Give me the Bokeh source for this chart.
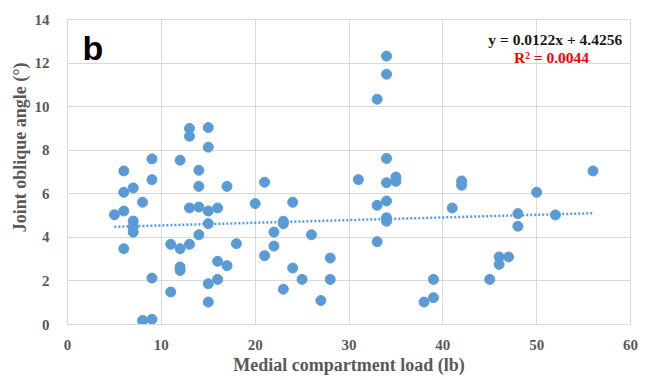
from bokeh.plotting import figure
from bokeh.models import Range1d, FixedTicker, Label, Title
from bokeh.embed import file_html
from bokeh.resources import INLINE

# Data
load_lb = [5, 6, 6, 6, 6, 7, 7, 7, 7, 8, 8, 9, 9, 9, 9, 11, 11, 12, 12, 12, 12,
           13, 13, 13, 13, 14, 14, 14, 14, 15, 15, 15, 15, 15, 15, 16, 16, 16,
           17, 17, 18, 20, 21, 21, 22, 22, 23, 23, 23, 24, 24, 25, 26, 27, 28, 28,
           31, 33, 33, 33, 34, 34, 34, 34, 34, 34, 34, 35, 35, 38, 39, 39, 41,
           42, 42, 45, 46, 46, 47, 48, 48, 50, 52, 56]
angle_deg = [5.04, 7.05, 6.07, 5.21, 3.48, 6.27, 4.75, 4.47, 4.24, 5.61, 0.18,
             7.60, 6.65, 2.13, 0.24, 3.68, 1.49, 7.54, 3.48, 2.64, 2.48,
             9.00, 8.64, 5.35, 3.68, 7.08, 6.34, 5.39, 4.12, 9.04, 8.14, 5.21,
             4.63, 1.87, 1.03, 5.35, 2.90, 2.07, 6.34, 2.70, 3.71, 5.55, 6.53,
             3.16, 4.24, 3.60, 4.74, 4.63, 1.62, 5.61, 2.59, 2.07, 4.12, 1.10,
             3.05, 2.07, 6.65, 10.34, 5.47, 3.80, 12.32, 11.49, 7.62, 6.51,
             5.67, 4.90, 4.74, 6.77, 6.57, 1.03, 2.07, 1.23, 5.35, 6.59, 6.39,
             2.07, 3.10, 2.76, 3.10, 5.09, 4.51, 6.07, 5.03, 7.05]
slope = 0.0122
intercept = 4.4256
trend_x = [min(load_lb), max(load_lb)]
trend_y = [slope * v + intercept for v in trend_x]
x_ticks = [0, 10, 20, 30, 40, 50, 60]
y_ticks = [0, 2, 4, 6, 8, 10, 12, 14]

GRID = "#d9d9d9"
TXT = "#595959"
BLUE = "#5b9bd5"

p = figure(frame_width=563, frame_height=305, output_backend="svg",
           toolbar_location=None, x_range=Range1d(0, 60), y_range=Range1d(0, 14))
p.min_border_left = 67
p.min_border_right = 19
p.min_border_top = 19
p.min_border_bottom = 0
p.outline_line_color = GRID
p.background_fill_color = "white"
p.border_fill_color = "white"

for ax in (p.xaxis[0], p.yaxis[0]):
    ax.axis_line_color = GRID
    ax.major_tick_line_color = None
    ax.minor_tick_line_color = None
    ax.major_tick_out = 0
    ax.major_tick_in = 0
    ax.major_label_text_font = "Liberation Serif"
    ax.major_label_text_font_style = "bold"
    ax.major_label_text_font_size = "15px"
    ax.major_label_text_color = TXT
    ax.axis_label_text_font = "Liberation Serif"
    ax.axis_label_text_font_style = "bold"
    ax.axis_label_text_font_size = "18px"
    ax.axis_label_text_color = TXT

p.xaxis.ticker = FixedTicker(ticks=x_ticks)
p.yaxis.ticker = FixedTicker(ticks=y_ticks)
p.xaxis.axis_label = "Medial compartment load (lb)"
p.xaxis.major_label_standoff = 15
p.yaxis.major_label_standoff = 18
p.xaxis.axis_label_standoff = 2

p.xgrid.ticker = FixedTicker(ticks=x_ticks)
p.ygrid.ticker = FixedTicker(ticks=y_ticks)
p.xgrid.grid_line_color = GRID
p.ygrid.grid_line_color = GRID

p.scatter(load_lb, angle_deg, size=10, color=BLUE, line_color=BLUE)
p.line(trend_x, trend_y, line_color=BLUE, line_width=2.5, line_dash="2 2")

# y-axis title, placed slightly above the frame centre as in the reference
ytitle = Title(text="Joint oblique angle (°)", align="right", offset=43,
               standoff=4, text_font="Liberation Serif", text_font_style="bold",
               text_font_size="18px", text_color=TXT)
p.add_layout(ytitle, "left")

p.add_layout(Label(x=1.6, y=12.71, text="b", text_baseline="alphabetic",
                   text_font="Liberation Sans", text_font_style="bold",
                   text_font_size="34px", text_color="black"))
p.add_layout(Label(x=59.12, y=13.1, text="y = 0.0122x + 4.4256", text_align="right",
                   text_baseline="alphabetic",
                   text_font="Liberation Serif", text_font_style="bold",
                   text_font_size="15.5px", text_color="#1a1a1a"))
p.add_layout(Label(x=51.58, y=12.27, text="R² = 0.0044", text_align="center",
                   text_baseline="alphabetic",
                   text_font="Liberation Serif", text_font_style="bold",
                   text_font_size="15.5px", text_color="#ff0000"))

open("out.html", "w").write(file_html(p, INLINE))
